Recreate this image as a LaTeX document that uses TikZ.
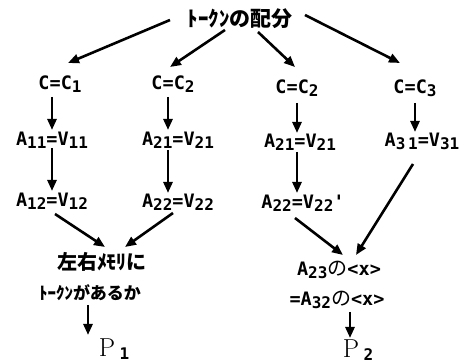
\documentclass[tikz,border=0pt]{standalone}
\usepackage{fontspec}
\newfontfamily\monofam{DejaVu Sans Mono}
\newfontfamily\jpfam{Noto Sans CJK JP}
\usetikzlibrary{arrows.meta}
\newcommand\ssub[1]{\raisebox{-3pt}{\fontsize{16}{16}\selectfont\bfseries #1}}
\tikzset{
  lbl/.style={inner sep=1pt, font=\monofam\bfseries\fontsize{18.5}{20}\selectfont},
  jlbl/.style={inner sep=1pt, font=\jpfam\bfseries\fontsize{17}{21}\selectfont},
  plbl/.style={inner sep=1pt, font=\fontsize{26}{28}\selectfont},
  arr/.style={line width=2.6pt, -{Triangle[length=11pt,width=9pt]}}
}
\begin{document}
\begin{tikzpicture}[x=1pt,y=-1pt]
\useasboundingbox[fill=white] (0,0) rectangle (475,363);
\node[jlbl,font=\jpfam\bfseries\fontsize{21}{23}\selectfont] (top) at (240,19) {ﾄｰｸﾝの配分};
\node[lbl] (c1) at (60,84) {C=C\ssub{1}};
\node[lbl] (c2) at (173,84) {C=C\ssub{2}};
\node[lbl] (c3) at (297,88) {C=C\ssub{2}};
\node[lbl] (c4) at (415,88) {C=C\ssub{3}};
\node[lbl] (a11) at (52,140) {A\ssub{11}=V\ssub{11}};
\node[lbl] (a21) at (178,140) {A\ssub{21}=V\ssub{21}};
\node[lbl] (a21b) at (300,142) {A\ssub{21}=V\ssub{21}};
\node[lbl] (a31) at (422,141) {A\ssub{3\,1}=V\ssub{31}};
\node[lbl] (a12) at (52,201) {A\ssub{12}=V\ssub{12}};
\node[lbl] (a22) at (178,202) {A\ssub{22}=V\ssub{22}};
\node[lbl] (a22b) at (303,203) {A\ssub{22}=V\ssub{22}'};
\node[jlbl,font=\jpfam\bfseries\fontsize{20}{22}\selectfont] (mem1) at (102,262) {左右ﾒﾓﾘに};
\node[jlbl] (mem2) at (90,293) {ﾄｰｸﾝがあるか};
\node[lbl] (x1) at (339,270) {A\ssub{23}{\jpfam\mdseries\fontsize{20}{22}\selectfont の}<x>};
\node[lbl] (x2) at (337,300) {=A\ssub{32}{\jpfam\mdseries\fontsize{20}{22}\selectfont の}<x>};
\node[plbl] (p1) at (114,349) {P\,{\monofam\ssub{1}}};
\node[plbl] (p2) at (358,350) {P\,{\monofam\ssub{2}}};
% top fan
\draw[arr] ([shift={(-70,1)}]top.center) -- ([shift={(8,-21)}]c1.center);
\draw[arr] ([shift={(-15,11)}]top.center) -- ([shift={(-3,-17)}]c2.center);
\draw[arr] ([shift={(18,13)}]top.center) -- ([shift={(-2,-21)}]c3.center);
\draw[arr] ([shift={(65,-4)}]top.center) -- ([shift={(-15,-25)}]c4.center);
% verticals
\draw[arr] ([shift={(-8,13)}]c1.center) -- ([shift={(0,-10)}]a11.center);
\draw[arr] ([shift={(-5,13)}]c2.center) -- ([shift={(-10,-10)}]a21.center);
\draw[arr] ([shift={(0,15)}]c3.center) -- ([shift={(-3,-9)}]a21b.center);
\draw[arr] ([shift={(0,15)}]c4.center) -- ([shift={(-7,-9)}]a31.center);
\draw[arr] ([shift={(0,8)}]a11.center) -- ([shift={(0,-10)}]a12.center);
\draw[arr] ([shift={(-10,10)}]a21.center) -- ([shift={(-10,-9)}]a22.center);
\draw[arr] ([shift={(-3,10)}]a21b.center) -- ([shift={(-6,-10)}]a22b.center);
% merges
\draw[arr] ([shift={(3,13)}]a12.center) -- ([shift={(3,-15)}]mem1.center);
\draw[arr] ([shift={(-5,11)}]a22.center) -- ([shift={(23,-15)}]mem1.center);
\draw[arr] ([shift={(-8,15)}]a22b.center) -- ([shift={(4,-15)}]x1.center);
\draw[arr] ([shift={(-9,23)}]a31.center) -- ([shift={(17,-15)}]x1.center);
% to P
\draw[arr] ([shift={(-2,12)}]mem2.center) -- ([shift={(-26,-14)}]p1.center);
\draw[arr] ([shift={(13,12)}]x2.center) -- ([shift={(-8,-12)}]p2.center);
\end{tikzpicture}
\end{document}
